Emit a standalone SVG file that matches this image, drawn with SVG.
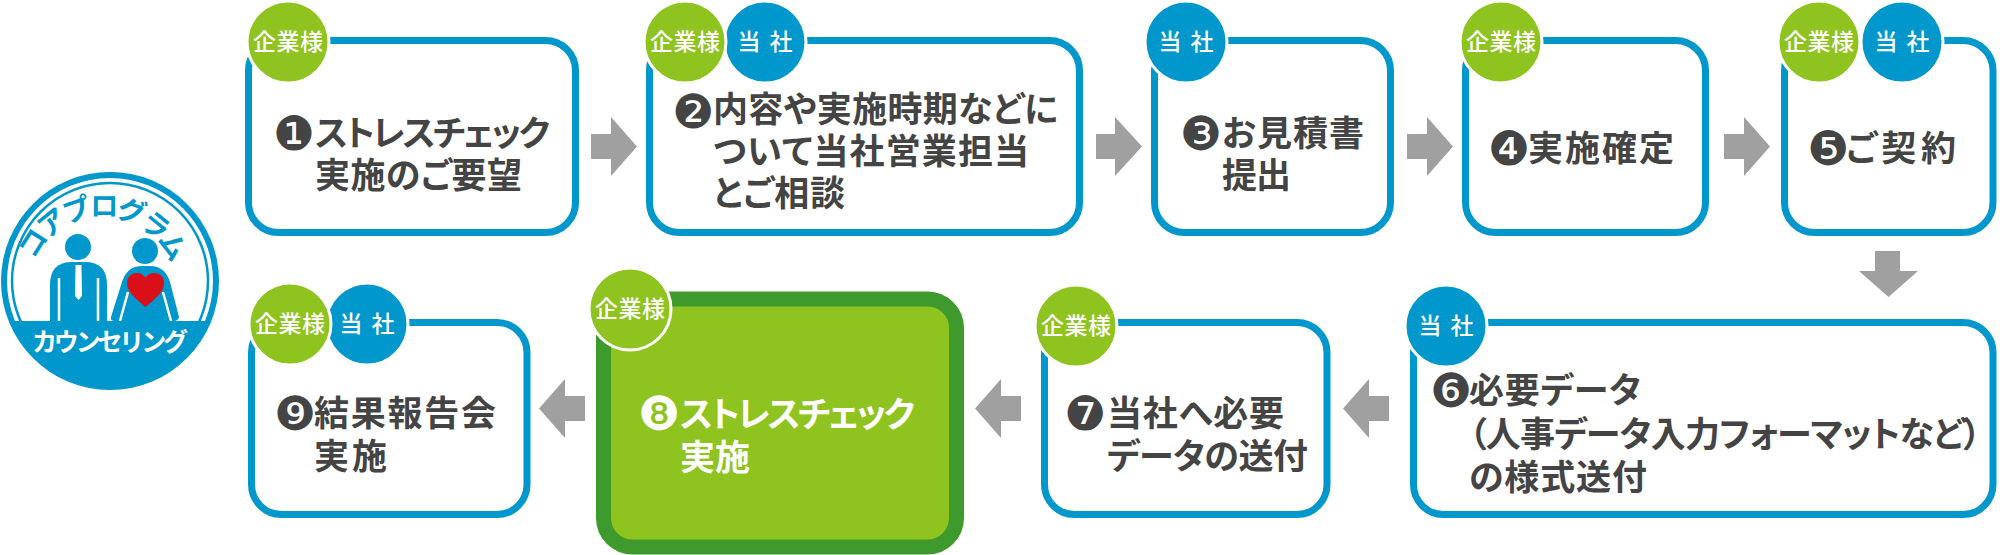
<svg xmlns="http://www.w3.org/2000/svg" width="2000" height="555" viewBox="0 0 2000 555">
<style>
.box{fill:#fff;stroke:#0097cc;stroke-width:7}
.g{fill:#8fc31f;stroke:#fff;stroke-width:3}
.b{fill:#0097cc;stroke:#fff;stroke-width:3}
text{font-family:"Noto Sans CJK JP","Noto Sans",sans-serif}
.bt{font-size:23px;font-weight:500;fill:#fff;text-anchor:middle}
.t{font-size:35px;font-weight:700;fill:#444;font-feature-settings:"palt"}
.n{font-family:"DejaVu Sans",sans-serif;font-size:47px;fill:#444;text-anchor:middle}
.w{fill:#fff}
.arrow{fill:#a0a0a0}
.lb{fill:#0097cc}
</style>
<defs>
<clipPath id="top"><rect x="0" y="170" width="220" height="151"/></clipPath>
<path id="arc" d="M29.400 288.600A72.600 72.600 0 0 1 174.600 288.600"/>
</defs>
<rect width="2000" height="555" fill="#fff"/>
<g id="logo">
<circle class="lb" cx="110" cy="281" r="109"/>
<g clip-path="url(#top)">
<circle cx="110" cy="281" r="103" fill="#fff"/>
<circle cx="110" cy="281" r="98" fill="none" stroke="#0097cc" stroke-width="2.500"/>
</g>
<text font-size="28" font-weight="700" fill="#0097cc" text-anchor="middle" letter-spacing="-3.500"><textPath href="#arc" startOffset="50%">コアプログラム</textPath></text>
<circle class="lb" cx="78" cy="247" r="13"/>
<path class="lb" d="M50 321V285Q50 262 72 262H85Q107 262 107 285V321Z"/>
<path d="M59 321V278M98 321V278" stroke="#fff" stroke-width="2.500" fill="none"/>
<path class="w" d="M75.500 265H81.500V268L82 296L78.500 300L75 296L75.500 268Z"/>
<circle class="lb" cx="145" cy="251" r="13"/>
<path class="lb" d="M111 317L122 282Q127 266 142 266H150Q165 266 170 282L179 317Q178 321 174 321H115Q110 321 111 317Z"/>
<path d="M128 292L120 321M163 292L171 321" stroke="#fff" stroke-width="2.500" fill="none"/>
<path d="M145.500 307C135 298 127 292 127 283C127 276 132 273 137 273C141 273 144 275 145.500 278C147 275 150 273 154 273C159 273 164 276 164 283C164 292 156 298 145.500 307Z" fill="#d90f19"/>
<text x="32" y="351" font-size="25" font-weight="700" fill="#fff" textLength="156">カウンセリング</text>
</g>
<g id="connectors">
<path class="arrow" d="M591 134H611V117L637 146.500L611 176V159H591Z"/>
<path class="arrow" d="M1096 134H1115V117L1142 146.500L1115 176V159H1096Z"/>
<path class="arrow" d="M1407 134H1427V117L1453 146.500L1427 176V159H1407Z"/>
<path class="arrow" d="M1724 134H1744V117L1770 146.500L1744 176V159H1724Z"/>
<path class="arrow" d="M1875 251H1900V271H1918L1888.500 297L1859 271H1875Z"/>
<path class="arrow" d="M1389 396H1369V379L1343 408.500L1369 438V421H1389Z"/>
<path class="arrow" d="M1021 396H1001V379L975 408.500L1001 438V421H1021Z"/>
<path class="arrow" d="M585 396H565V379L539 408.500L565 438V421H585Z"/>
</g>
<g id="node1">
<rect class="box" x="248.500" y="40.500" width="327" height="192" rx="30"/>
<circle class="g" cx="288" cy="42" r="41"/>
<text class="bt" x="288" y="50" textLength="70">企業様</text>
<text class="n" x="294" y="150">❶</text>
<text class="t" x="315" y="146" textLength="235">ストレスチェック</text>
<text class="t" x="315" y="188" textLength="207">実施のご要望</text>
</g>
<g id="node2">
<rect class="box" x="649.500" y="40.500" width="430" height="192" rx="30"/>
<circle class="b" cx="765" cy="42" r="41"/>
<circle class="g" cx="685" cy="42" r="41"/>
<text class="bt" x="685" y="50" textLength="70">企業様</text>
<text class="bt" x="765" y="50" textLength="55">当 社</text>
<text class="n" x="693" y="128">❷</text>
<text class="t" x="713" y="122" textLength="345">内容や実施時期などに</text>
<text class="t" x="713" y="164" textLength="316">ついて当社営業担当</text>
<text class="t" x="713" y="206" textLength="132">とご相談</text>
</g>
<g id="node3">
<rect class="box" x="1154.500" y="40.500" width="236" height="192" rx="30"/>
<circle class="b" cx="1186" cy="42" r="41"/>
<text class="bt" x="1186" y="50" textLength="55">当 社</text>
<text class="n" x="1201" y="150">❸</text>
<text class="t" x="1222" y="146" textLength="142">お見積書</text>
<text class="t" x="1222" y="188" textLength="69">提出</text>
</g>
<g id="node4">
<rect class="box" x="1465.500" y="40.500" width="240" height="192" rx="30"/>
<circle class="g" cx="1501" cy="42" r="41"/>
<text class="bt" x="1501" y="50" textLength="70">企業様</text>
<text class="n" x="1509" y="165">❹</text>
<text class="t" x="1528" y="161" textLength="146">実施確定</text>
</g>
<g id="node5">
<rect class="box" x="1784.500" y="40.500" width="208.500" height="192" rx="30"/>
<circle class="b" cx="1902" cy="42" r="41"/>
<circle class="g" cx="1819" cy="42" r="41"/>
<text class="bt" x="1819" y="50" textLength="70">企業様</text>
<text class="bt" x="1902" y="50" textLength="55">当 社</text>
<text class="n" x="1828" y="165">❺</text>
<text class="t" x="1846" y="161" textLength="110">ご契約</text>
</g>
<g id="node6">
<rect class="box" x="1413.500" y="322.500" width="579.500" height="192" rx="30"/>
<circle class="b" cx="1446" cy="326" r="41"/>
<text class="bt" x="1446" y="334" textLength="55">当 社</text>
<text class="n" x="1451" y="407">❻</text>
<text class="t" x="1469" y="403" textLength="172">必要データ</text>
<text class="t" x="1469" y="447" textLength="512">（人事データ入力フォーマットなど）</text>
<text class="t" x="1469" y="490" textLength="178">の様式送付</text>
</g>
<g id="node7">
<rect class="box" x="1044.500" y="322.500" width="282.500" height="192" rx="30"/>
<circle class="g" cx="1076" cy="326" r="41"/>
<text class="bt" x="1076" y="334" textLength="70">企業様</text>
<text class="n" x="1085" y="430">❼</text>
<text class="t" x="1107" y="426" textLength="177">当社へ必要</text>
<text class="t" x="1107" y="469" textLength="201">データの送付</text>
</g>
<g id="node8">
<rect x="603.500" y="299" width="353" height="248" rx="29" fill="#8fc31f" stroke="#3e9a2d" stroke-width="15"/>
<circle class="g" cx="630" cy="309" r="41"/>
<text class="bt" x="630" y="317" textLength="70">企業様</text>
<text class="n" x="659" y="430" style="fill:#fff">❽</text>
<text class="t w" x="680" y="427" textLength="235">ストレスチェック</text>
<text class="t w" x="680" y="470" textLength="70">実施</text>
</g>
<g id="node9">
<rect class="box" x="251.500" y="322.500" width="275.500" height="192" rx="30"/>
<circle class="b" cx="367" cy="324" r="41"/>
<circle class="g" cx="290" cy="324" r="41"/>
<text class="bt" x="290" y="332" textLength="70">企業様</text>
<text class="bt" x="367" y="332" textLength="55">当 社</text>
<text class="n" x="295" y="430">❾</text>
<text class="t" x="314" y="426" textLength="182">結果報告会</text>
<text class="t" x="314" y="469" textLength="73">実施</text>
</g>
</svg>
